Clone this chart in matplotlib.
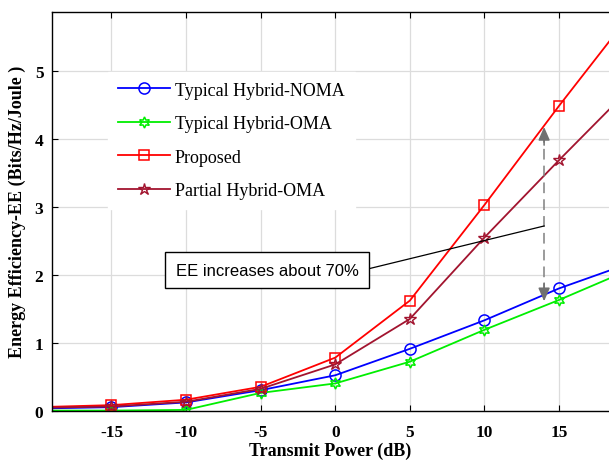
import matplotlib
matplotlib.use("Agg")
import matplotlib.pyplot as plt
from matplotlib.patches import Rectangle

plt.rcParams["axes.unicode_minus"] = False

# data (x in dB)
power = [-20, -15, -10, -5, 0, 5, 10, 15, 20]
hybrid_noma = [0.03, 0.05, 0.12, 0.30, 0.52, 0.91, 1.33, 1.80, 2.19]
hybrid_oma = [0.00, 0.00, 0.01, 0.26, 0.40, 0.72, 1.19, 1.63, 2.10]
proposed = [0.05, 0.08, 0.16, 0.35, 0.78, 1.62, 3.03, 4.49, 5.90]
partial_oma = [0.04, 0.06, 0.13, 0.32, 0.68, 1.35, 2.55, 3.69, 4.80]

labels = ["Typical Hybrid-NOMA", "Typical Hybrid-OMA", "Proposed", "Partial Hybrid-OMA"]
xticks = [-15, -10, -5, 0, 5, 10, 15]
yticks = [0, 1, 2, 3, 4, 5]

serif = ["Liberation Serif", "DejaVu Serif"]

fig = plt.figure(figsize=(6.09, 4.64), dpi=100)
ax = fig.add_axes([0.085, 0.113, 0.915, 0.860])

ax.plot(power, hybrid_noma, color="#0000ff", lw=1.3, marker="o", ms=8,
        mfc="none", mew=1.1, label=labels[0])
ax.plot(power, hybrid_oma, color="#00ee00", lw=1.3, marker=(6, 1, 0), ms=8,
        mfc="none", mew=1.1, label=labels[1])
ax.plot(power, proposed, color="#ff0000", lw=1.3, marker="s", ms=7,
        mfc="none", mew=1.1, label=labels[2])
ax.plot(power, partial_oma, color="#a2142f", lw=1.3, marker="*", ms=9,
        mfc="none", mew=1.0, label=labels[3])

ax.set_xlim(-19, 18.35)
ax.set_ylim(0, 5.88)
ax.set_xticks(xticks)
ax.set_yticks(yticks)
ax.grid(True, color="#dcdcdc", lw=0.9)
ax.set_axisbelow(True)
ax.tick_params(direction="in", top=True, length=4, width=0.8)
ax.tick_params(axis="x", pad=10)
ax.tick_params(axis="y", pad=6)
for lab in ax.get_xticklabels() + ax.get_yticklabels():
    lab.set_family(serif)
    lab.set_fontweight("bold")
    lab.set_fontsize(12.5)
ax.spines["right"].set_visible(False)
for s in ["left", "bottom", "top"]:
    ax.spines[s].set_linewidth(1.0)

ax.set_xlabel("Transmit Power (dB)", family=serif, fontweight="bold", fontsize=13, labelpad=1)
ax.set_ylabel("Energy Efficiency-EE (Bits/Hz/Joule )", family=serif, fontweight="bold",
              fontsize=13, labelpad=6)

leg = ax.legend(loc="upper left", bbox_to_anchor=(0.085, 0.872), frameon=True,
                fancybox=False, edgecolor="white", facecolor="white", framealpha=1,
                prop={"family": serif, "size": 13}, handlelength=2.9,
                handletextpad=0.25, labelspacing=0.92, borderpad=0.55)

# annotation: text box with a pointer line, and the dashed double arrow
arrow_x = 14.0
arrow_low, arrow_high = 1.57, 4.22
ax.plot([arrow_x, arrow_x], [arrow_low + 0.15, arrow_high - 0.15], color="#808080",
        lw=1.1, ls=(0, (7, 4)))
ax.annotate("", xy=(arrow_x, arrow_high), xytext=(arrow_x, arrow_high - 0.35),
            arrowprops=dict(arrowstyle="-|>,head_length=0.8,head_width=0.35",
                            color="#707070", lw=1.1))
ax.annotate("", xy=(arrow_x, arrow_low), xytext=(arrow_x, arrow_low + 0.35),
            arrowprops=dict(arrowstyle="-|>,head_length=0.8,head_width=0.35",
                            color="#707070", lw=1.1))

box_x0, box_x1 = -11.4, 2.25
box_y0, box_y1 = 1.81, 2.33
ax.add_patch(Rectangle((box_x0, box_y0), box_x1 - box_x0, box_y1 - box_y0,
                       facecolor="white", edgecolor="black", lw=1.0, zorder=5))
ax.text((box_x0 + box_x1) / 2, (box_y0 + box_y1) / 2, "EE increases about 70%",
        ha="center", va="center", family=["Liberation Sans", "DejaVu Sans"],
        fontsize=12, zorder=6)
ax.plot([box_x1, arrow_x], [2.09, 2.72], color="black", lw=0.9, zorder=4)

fig.savefig("out.png", dpi=100)
